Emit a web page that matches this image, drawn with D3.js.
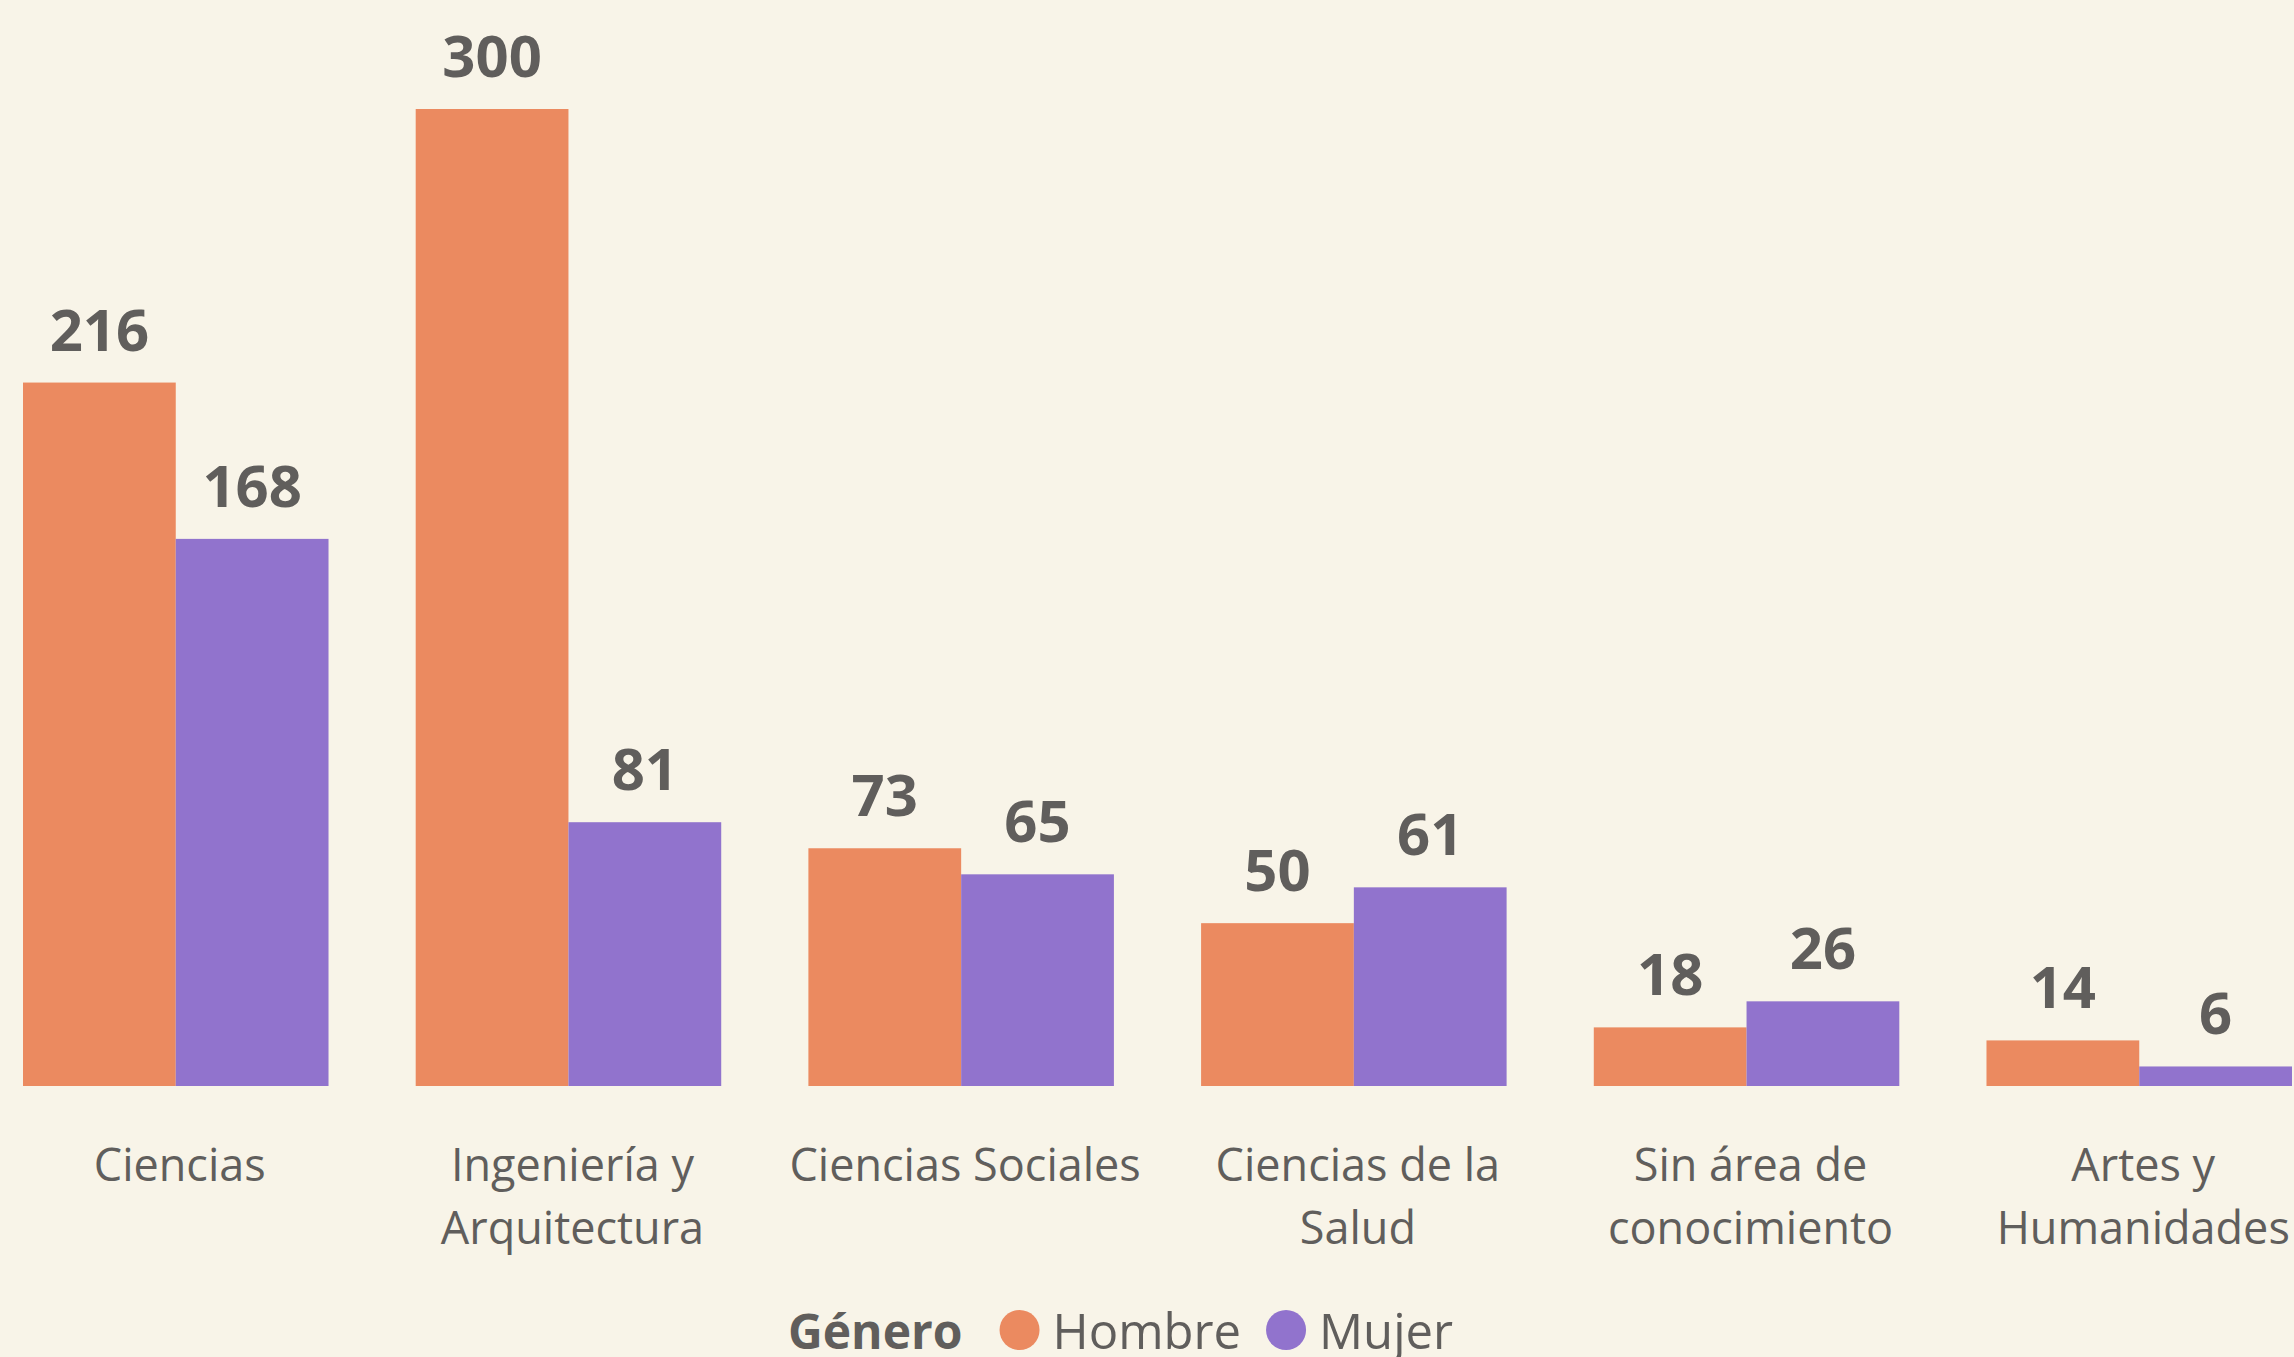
<!DOCTYPE html>
<html>
<head>
<meta charset="utf-8">
<script src="https://cdn.jsdelivr.net/npm/d3@7"></script>
<style>
  body { margin: 0; background: #F8F4E8; }
  svg { display: block; }
</style>
</head>
<body>
<script>
// data
var categories = ["Ciencias", "Ingeniería y Arquitectura", "Ciencias Sociales", "Ciencias de la Salud", "Sin área de conocimiento", "Artes y Humanidades"];
var categoryLines = [["Ciencias"], ["Ingeniería y", "Arquitectura"], ["Ciencias Sociales"], ["Ciencias de la", "Salud"], ["Sin área de", "conocimiento"], ["Artes y", "Humanidades"]];
var series = ["Hombre", "Mujer"];
var hombre = [216, 300, 73, 50, 18, 14];
var mujer = [168, 81, 65, 61, 26, 6];
var legendTitle = "Género";

var W = 2294, H = 1357;
var textcolour = "#605E5C";
var colours = { "Hombre": "#EB8A60", "Mujer": "#9173CD" };
var font = "'Segoe UI', 'Open Sans', sans-serif";

var svg = d3.select("body").append("svg")
    .attr("width", W)
    .attr("height", H);

svg.append("rect")
    .attr("width", W)
    .attr("height", H)
    .style("fill", "#F8F4E8");

var x0 = d3.scaleBand()
    .domain(categories)
    .range([23, 2292])
    .paddingInner(0.222)
    .paddingOuter(0);

var x1 = d3.scaleBand()
    .domain(series)
    .range([0, x0.bandwidth()]);

var y = d3.scaleLinear()
    .domain([0, 300])
    .range([1086, 109]);

var rows = categories.map(function(c, i) {
    return { cat: c, values: [{ s: "Hombre", v: hombre[i] }, { s: "Mujer", v: mujer[i] }] };
});

var groups = svg.selectAll(".grp")
    .data(rows)
    .enter().append("g")
    .attr("class", "grp")
    .attr("transform", function(d) { return "translate(" + x0(d.cat) + ",0)"; });

groups.selectAll("rect")
    .data(function(d) { return d.values; })
    .enter().append("rect")
    .attr("x", function(d) { return x1(d.s); })
    .attr("y", function(d) { return y(d.v); })
    .attr("width", x1.bandwidth())
    .attr("height", function(d) { return y(0) - y(d.v); })
    .style("fill", function(d) { return colours[d.s]; });

// value labels
groups.selectAll(".val")
    .data(function(d) { return d.values; })
    .enter().append("text")
    .attr("class", "val")
    .attr("x", function(d) { return x1(d.s) + x1.bandwidth() / 2; })
    .attr("y", function(d) { return y(d.v) - 32; })
    .attr("text-anchor", "middle")
    .style("font-family", font)
    .style("font-weight", "bold")
    .style("font-size", "58px")
    .style("fill", textcolour)
    .text(function(d) { return d.v; });

// category axis labels (slightly right of band centre, as in the original)
var axis = svg.append("g");
categories.forEach(function(c, i) {
    var cx = x0(c) + x0.bandwidth() / 2 + 4;
    var t = axis.append("text")
        .attr("x", cx)
        .attr("y", 1181)
        .attr("text-anchor", "middle")
        .style("font-family", font)
        .style("font-size", "45px")
        .style("fill", textcolour);
    categoryLines[i].forEach(function(line, j) {
        t.append("tspan")
            .attr("x", cx)
            .attr("dy", j === 0 ? 0 : 63)
            .text(line);
    });
});

// legend
var legend = svg.append("g");
var lx = 788, ly = 1349;
var title = legend.append("text")
    .attr("x", lx)
    .attr("y", ly)
    .style("font-family", font)
    .style("font-weight", "bold")
    .style("font-size", "48px")
    .style("fill", textcolour)
    .text(legendTitle);
lx += title.node().getComputedTextLength() + 37;

series.forEach(function(s) {
    legend.append("circle")
        .attr("cx", lx + 20)
        .attr("cy", 1330)
        .attr("r", 20)
        .style("fill", colours[s]);
    lx += 53;
    var t = legend.append("text")
        .attr("x", lx)
        .attr("y", ly)
        .style("font-family", font)
        .style("font-size", "49px")
        .style("fill", textcolour)
        .text(s);
    lx += t.node().getComputedTextLength() + 25;
});
</script>
</body>
</html>
